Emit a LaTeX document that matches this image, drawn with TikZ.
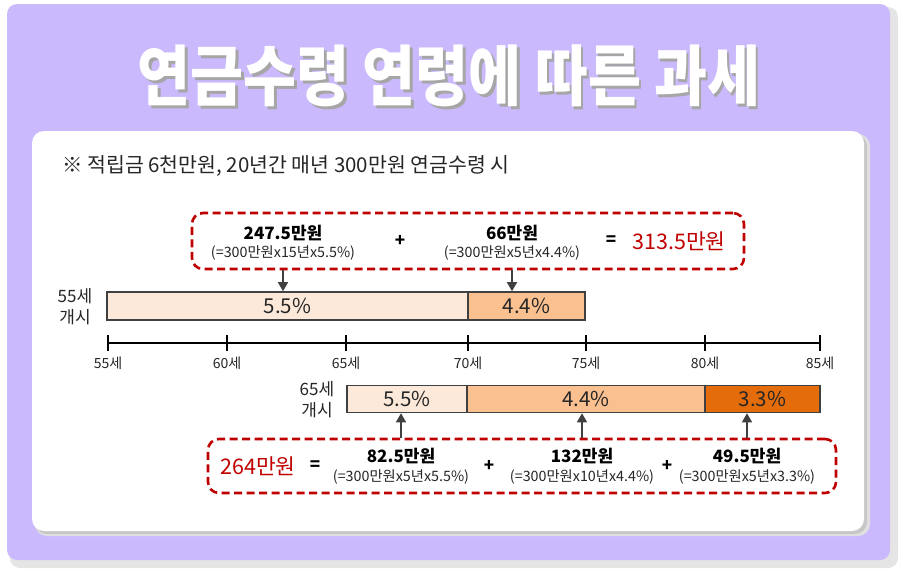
\documentclass[tikz,border=0pt]{standalone}
\usepackage{fontspec}
\usepackage{graphicx}
\setmainfont{Noto Sans CJK KR}
\usetikzlibrary{arrows.meta}
\definecolor{bgpurple}{HTML}{CBB9FE}
\definecolor{dred}{HTML}{C00000}
\definecolor{peachA}{HTML}{FDE9D9}
\definecolor{peachB}{HTML}{FAC090}
\definecolor{orng}{HTML}{E46C0A}
\definecolor{edgec}{HTML}{404040}
\definecolor{txt}{HTML}{262626}
\newcommand{\fs}[1]{\fontsize{#1}{#1}\selectfont}
\tikzset{
  dbox/.style={draw=dred, line width=2.6pt, dash pattern=on 8pt off 4.5pt, rounded corners=11pt},
  seg/.style={draw=edgec, line width=1.6pt, inner sep=0pt, text=txt, font=\fs{20.5}},
  amt/.style={font=\bfseries\fs{17}, text=black, inner sep=0pt},
  calc/.style={font=\fs{14.3}, text=txt, inner sep=0pt},
  op/.style={font=\bfseries\fs{17}, text=black, inner sep=0pt},
  tot/.style={font=\fs{21.5}, text=dred, inner sep=0pt},
  arr/.style={draw=edgec, line width=1.5pt, -{Triangle[width=10pt,length=9pt]}},
  tick/.style={line width=1.6pt, draw=black},
  tlab/.style={font=\fs{14}, text=txt, inner sep=0pt},
  side/.style={font=\fontsize{17}{21}\selectfont, text=txt, align=center, inner sep=0pt}
}
\begin{document}
\begin{tikzpicture}[x=1pt,y=-1pt]
\useasboundingbox (0,0) rectangle (903,573);
% outer panel with shadow
\fill[black!18, rounded corners=10] (12,9) rectangle (896,566);
\fill[black!10, rounded corners=10] (10,7) rectangle (898,568);
\fill[bgpurple, rounded corners=10] (7,4) rectangle (890,560);
% inner white panel with shadow
\fill[black!12, rounded corners=12] (35,134) rectangle (870,536);
\fill[black!22, rounded corners=12] (35,134) rectangle (867,534);
\fill[white, rounded corners=12] (32,131) rectangle (864,531);
% title
\node[text=black!35, font=\bfseries\fs{64}] (tshadow) at (451.5,78.5) {\scalebox{0.9}[1.03]{연금수령 연령에 따른 과세}};
\node[text=white, font=\bfseries\fs{64}] (title) at (449,76) {\scalebox{0.9}[1.03]{연금수령 연령에 따른 과세}};
% subtitle
\node[anchor=west, font=\fs{20.5}, text=txt, inner sep=0pt] (sub) at (62,166) {※ 적립금 6천만원, 20년간 매년 300만원 연금수령 시};
% top dashed box
\node[dbox, minimum width=552, minimum height=56, inner sep=0pt] (topbox) at (468,241) {};
\node[amt] (t1) at (283,233) {247.5만원};
\node[calc] (c1) at (283,253) {(=300만원x15년x5.5\%)};
\node[op] (p1) at (400,241) {+};
\node[amt] (t2) at (512,233) {66만원};
\node[calc] (c2) at (512,253) {(=300만원x5년x4.4\%)};
\node[op] (e1) at (611,241) {=};
\node[tot] (r1) at (679,241) {313.5만원};
% top bar
\node[side] (lab1) at (75,307) {55세\\개시};
\node[seg, fill=peachA, minimum width=361, minimum height=28] (a1) at (287.5,306) {5.5\%};
\node[seg, fill=peachB, minimum width=117, minimum height=28] (a2) at (526.5,306) {4.4\%};
\draw[arr] (t1 |- topbox.south) -- (t1 |- a1.north);
\draw[arr] (t2 |- topbox.south) -- (t2 |- a2.north);
% axis
\coordinate (ax0) at (108,343);
\coordinate (ax1) at (820,343);
\draw[tick] (ax0) -- (ax1);
\foreach \i/\xx in {55/108,60/227,65/346,70/468,75/586,80/705,85/820}{
  \draw[tick] (\xx,335) -- (\xx,351);
  \node[tlab] (lab\i) at (\xx,363) {{\i}세};
}
% bottom bar
\node[side] (lab2) at (317,400) {65세\\개시};
\node[seg, fill=peachA, minimum width=120, minimum height=27] (b1) at (407,399) {5.5\%};
\node[seg, fill=peachB, minimum width=238, minimum height=27] (b2) at (586,399) {4.4\%};
\node[seg, fill=orng, minimum width=115, minimum height=27] (b3) at (762.5,399) {3.3\%};
% bottom dashed box
\node[dbox, minimum width=628, minimum height=54, inner sep=0pt] (botbox) at (522,466) {};
\node[tot] (r2) at (258,466) {264만원};
\node[op] (e2) at (315,466) {=};
\node[amt] (u1) at (401,456) {82.5만원};
\node[calc] (d1) at (401,477) {(=300만원x5년x5.5\%)};
\node[op] (p2) at (489,466) {+};
\node[amt] (u2) at (582,456) {132만원};
\node[calc] (d2) at (582,477) {(=300만원x10년x4.4\%)};
\node[op] (p3) at (667,466) {+};
\node[amt] (u3) at (747,456) {49.5만원};
\node[calc] (d3) at (747,477) {(=300만원x5년x3.3\%)};
\draw[arr] (u1 |- botbox.north) -- (u1 |- b1.south);
\draw[arr] (u2 |- botbox.north) -- (u2 |- b2.south);
\draw[arr] (u3 |- botbox.north) -- (u3 |- b3.south);
\end{tikzpicture}
\end{document}
